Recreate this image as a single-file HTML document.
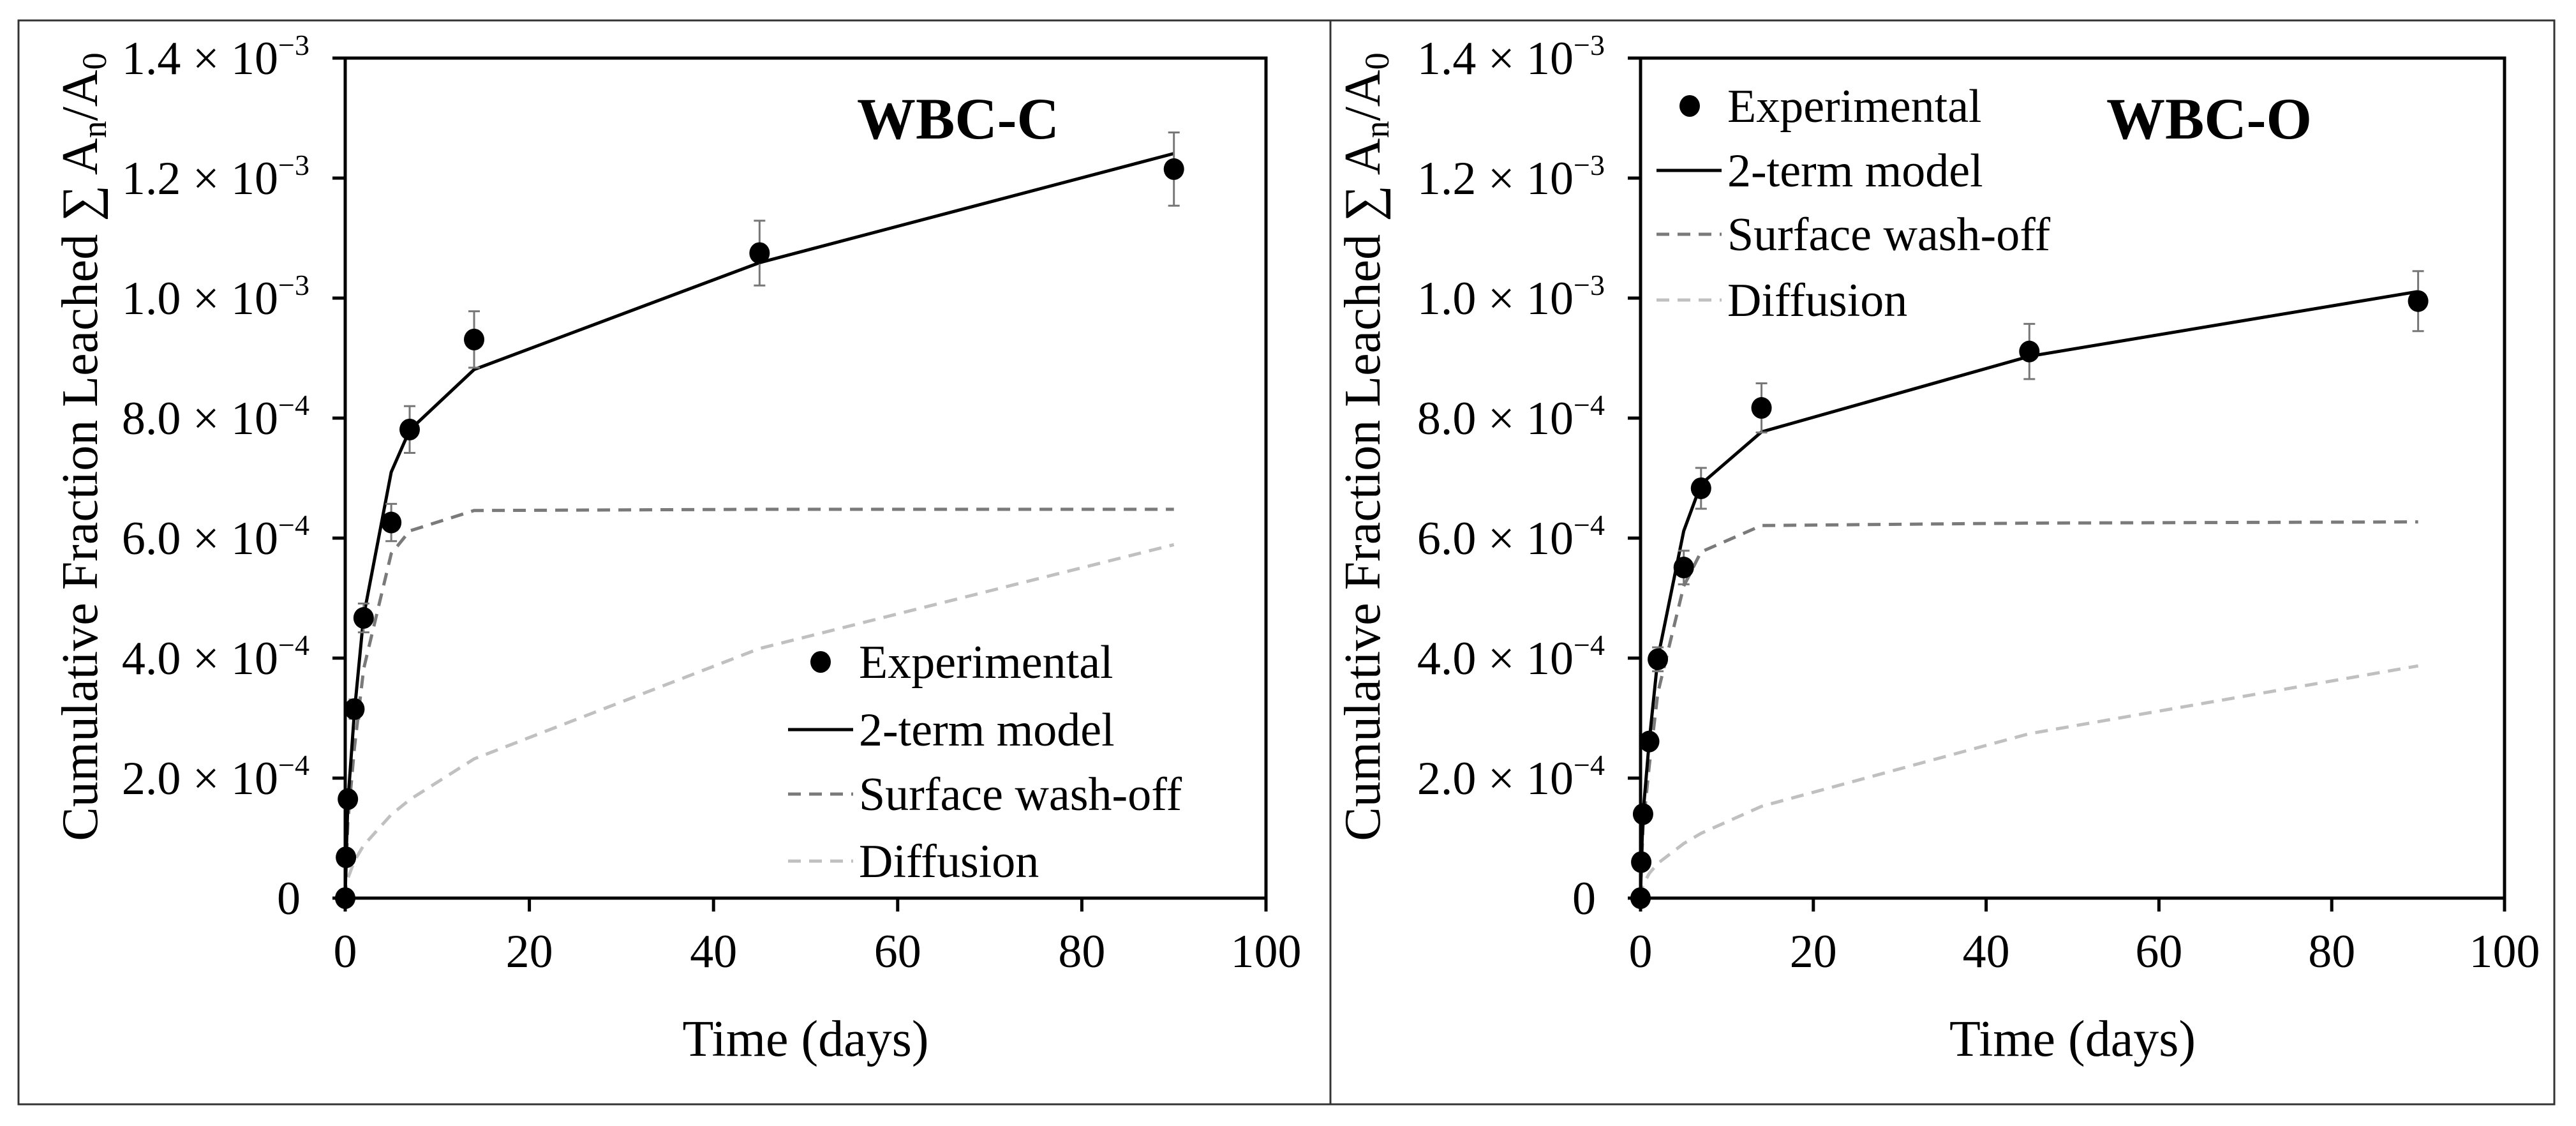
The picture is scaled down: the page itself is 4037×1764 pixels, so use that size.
<!DOCTYPE html>
<html><head><meta charset="utf-8"><style>
html,body{margin:0;padding:0;background:#fff;}
svg{display:block;font-family:"Liberation Serif",serif;}
</style></head><body>
<svg id="chart" width="4037" height="1764" viewBox="0 0 4037 1764" xmlns="http://www.w3.org/2000/svg">
<rect x="29" y="32" width="2056" height="1698" fill="none" stroke="#333" stroke-width="3"/>
<rect x="2085" y="32" width="1918" height="1698" fill="none" stroke="#333" stroke-width="3"/>
</svg>
<script>
const times = [0, 0.08, 0.29, 1, 2, 5, 7, 14, 45, 90];
const expC = [0, 0.068, 0.165, 0.315, 0.467, 0.626, 0.781, 0.931, 1.075, 1.215];
const errC = [0, 0.004, 0.008, 0.016, 0.024, 0.031, 0.039, 0.047, 0.054, 0.061];
const modelC = [0, 0.06, 0.16, 0.31, 0.47, 0.71, 0.78, 0.881, 1.059, 1.241];
const surfC = [0, 0.042, 0.127, 0.25, 0.382, 0.574, 0.612, 0.646, 0.648, 0.648];
const diffC = [0, 0.018, 0.033, 0.062, 0.088, 0.139, 0.164, 0.232, 0.416, 0.589];
const expO = [0, 0.06, 0.14, 0.261, 0.398, 0.551, 0.683, 0.817, 0.911, 0.995];
const errO = [0, 0.003, 0.007, 0.013, 0.02, 0.028, 0.034, 0.041, 0.046, 0.05];
const modelO = [0, 0.055, 0.14, 0.26, 0.40, 0.612, 0.69, 0.777, 0.903, 1.011];
const surfO = [0, 0.043, 0.118, 0.219, 0.342, 0.52, 0.577, 0.621, 0.625, 0.627];
const diffO = [0, 0.012, 0.022, 0.041, 0.058, 0.091, 0.108, 0.153, 0.274, 0.387];
const xTicks = [0, 20, 40, 60, 80, 100];
const yTicks = [0, 0.2, 0.4, 0.6, 0.8, 1.0, 1.2, 1.4];
const yTickMant = ["0", "2.0", "4.0", "6.0", "8.0", "1.0", "1.2", "1.4"];
const yTickExp = ["", "−4", "−4", "−4", "−4", "−3", "−3", "−3"];
const legendLabels = ["Experimental", "2-term model", "Surface wash-off", "Diffusion"];

const NS = "http://www.w3.org/2000/svg";
const svg = document.getElementById('chart');
function mk(tag, attrs, parent) {
  const e = document.createElementNS(NS, tag);
  for (const k in attrs) e.setAttribute(k, attrs[k]);
  (parent || svg).appendChild(e);
  return e;
}

function panel(cfg) {
  const g = mk('g', {});
  
  
  const L = cfg.left, R = cfg.right, T = 91, B = 1407;
  const xs = v => L + (v / 100) * (R - L);
  const ys = v => B - (v / 1.4) * (B - T);
  // axes box
  const box = mk('rect', {x: L, y: T, width: R - L, height: B - T, fill: 'none', stroke: '#000', 'stroke-width': 5}, g);
  
  
  xTicks.forEach(t => {
    const tk = mk('line', {x1: xs(t), x2: xs(t), y1: B, y2: B + 21, stroke: '#000', 'stroke-width': 5}, g);
    
    
    const lb = mk('text', {x: xs(t), y: B + 108, 'font-size': 74, 'text-anchor': 'middle', fill: '#000'}, g);
    lb.textContent = t;
    
    
  });
  yTicks.forEach((t, i) => {
    const tk = mk('line', {x1: L - 20, x2: L, y1: ys(t), y2: ys(t), stroke: '#000', 'stroke-width': 5}, g);
    
    
    const lb = mk('text', {x: L - 56, y: ys(t) + 25, 'font-size': 74, 'text-anchor': 'end', fill: '#000'}, g);
    
    
    if (yTickExp[i]) {
      lb.appendChild(document.createTextNode(yTickMant[i] + " × 10"));
      const sup = mk('tspan', {dy: -30, 'font-size': 46}, lb);
      sup.textContent = yTickExp[i];
    } else {
      lb.setAttribute('x', L - 70);
      lb.textContent = yTickMant[i];
    }
  });
  // axis titles
  const xt = mk('text', {x: (L + R) / 2 + 0, y: 1654, 'font-size': 80, 'text-anchor': 'middle', fill: '#000'}, g);
  xt.textContent = 'Time (days)';
  
  
  const ytx = cfg.yTitleX, yty = 700;
  const yt = mk('text', {x: ytx, y: yty, 'font-size': 80, 'text-anchor': 'middle', fill: '#000', transform: `rotate(-90 ${ytx} ${yty})`}, g);
  
  
  yt.appendChild(document.createTextNode('Cumulative Fraction Leached ∑ A'));
  let s = mk('tspan', {dy: 14, 'font-size': 54}, yt); s.textContent = 'n';
  s = mk('tspan', {dy: -14}, yt); s.textContent = '/A';
  s = mk('tspan', {dy: 14, 'font-size': 54}, yt); s.textContent = '0';
  // series
  const path = arr => times.map((t, i) => (i ? 'L' : 'M') + xs(t).toFixed(1) + ' ' + ys(arr[i]).toFixed(1)).join(' ');
  const dl = mk('path', {d: path(cfg.diff), fill: 'none', stroke: '#c0c0c0', 'stroke-width': 5, 'stroke-dasharray': '20 13'}, g);
  
  
  const sl = mk('path', {d: path(cfg.surf), fill: 'none', stroke: '#7a7a7a', 'stroke-width': 5, 'stroke-dasharray': '20 13'}, g);
  
  
  const ml = mk('path', {d: path(cfg.model), fill: 'none', stroke: '#000', 'stroke-width': 5}, g);
  
  
  times.forEach((t, i) => {
    const e = cfg.err[i];
    if (e > 0) {
      const eb = mk('path', {d: `M${xs(t)} ${ys(cfg.exp[i] + e)} V${ys(cfg.exp[i] - e)} M${xs(t) - 9} ${ys(cfg.exp[i] + e)} h18 M${xs(t) - 9} ${ys(cfg.exp[i] - e)} h18`, stroke: '#777', 'stroke-width': 3, fill: 'none'}, g);
      
      
    }
    const c = mk('ellipse', {cx: xs(t), cy: ys(cfg.exp[i]), rx: 16, ry: 17, fill: '#000'}, g);
    
    
  });
  // title
  const ti = mk('text', {x: cfg.titleX, y: 217, 'font-size': 92, 'font-weight': 'bold', fill: '#000'}, g);
  ti.textContent = cfg.title;
  
  
  // legend
  const lg = mk('g', {}, g);
  
  
  legendLabels.forEach((lab, i) => {
    const y = cfg.legY[i];
    if (i === 0) {
      const m = mk('ellipse', {cx: cfg.legMarkX, cy: y, rx: 16, ry: 17, fill: '#000'}, lg);
      
      
    } else {
      const st = [['#000', ''], ['#7a7a7a', '20 13'], ['#c0c0c0', '20 13']][i - 1];
      const ln = mk('line', {x1: cfg.legLine[0], x2: cfg.legLine[1], y1: y, y2: y, stroke: st[0], 'stroke-width': 5}, lg);
      if (st[1]) ln.setAttribute('stroke-dasharray', st[1]);
      
      
    }
    const tx = mk('text', {x: cfg.legText, y: y + 25, 'font-size': 74, fill: '#000'}, lg);
    tx.textContent = lab;
    
    
  });
}

panel({name: 'panel-wbc-c', left: 541, right: 1984, yTitleX: 152, exp: expC, err: errC, model: modelC, surf: surfC, diff: diffC,
  title: 'WBC-C', titleX: 1343, legY: [1037, 1143, 1244, 1349], legMarkX: 1286, legLine: [1235, 1337], legText: 1346});
panel({name: 'panel-wbc-o', left: 2571, right: 3925, yTitleX: 2162, exp: expO, err: errO, model: modelO, surf: surfO, diff: diffO,
  title: 'WBC-O', titleX: 3301, legY: [166, 267, 367, 470], legMarkX: 2648, legLine: [2596, 2698], legText: 2707});
</script>
</body></html>
